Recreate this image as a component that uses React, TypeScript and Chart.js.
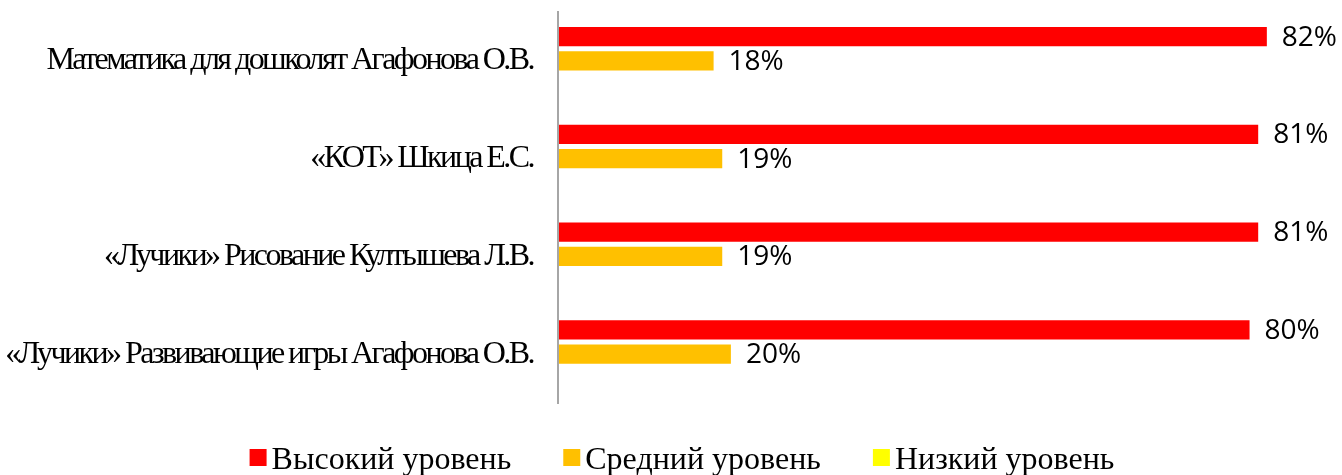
import React, { useEffect, useRef } from "react";
import { Chart, registerables } from "chart.js";

Chart.register(...registerables);

const categories = [
  "Математика для дошколят Агафонова О.В.",
  "«КОТ» Шкица Е.С.",
  "«Лучики» Рисование Култышева Л.В.",
  "«Лучики» Развивающие игры Агафонова О.В.",
];
const seriesNames = ["Высокий уровень", "Средний уровень", "Низкий уровень"];
const highLevel = [0.82, 0.81, 0.81, 0.8];
const mediumLevel = [0.18, 0.19, 0.19, 0.2];
const lowLevel = [0, 0, 0, 0];
const seriesColors = ["#FF0000", "#FFC000", "#FFFF00"];

const W = 1342;
const H = 475;

const labelSpacingPlugin = {
  id: "labelSpacing",
  beforeDraw(chart: any) {
    chart.ctx.letterSpacing = "-2.55px";
  },
  beforeDatasetsDraw(chart: any) {
    chart.ctx.letterSpacing = "0px";
  },
};

const dataLabelPlugin = {
  id: "dataLabels",
  afterDatasetsDraw(chart: any) {
    const ctx = chart.ctx;
    ctx.save();
    ctx.letterSpacing = "0px";
    ctx.font = "28px 'Open Sans'";
    ctx.fillStyle = "#000";
    ctx.textAlign = "left";
    ctx.textBaseline = "middle";
    chart.data.datasets.forEach((ds: any, di: number) => {
      const meta = chart.getDatasetMeta(di);
      meta.data.forEach((el: any, i: number) => {
        const v = ds.data[i];
        if (!v) return;
        ctx.fillText(Math.round(v * 100) + "%", el.x + 15, el.y + 1);
      });
    });
    ctx.restore();
  },
};

const legendPlugin = {
  id: "customLegend",
  afterDraw(chart: any) {
    const ctx = chart.ctx;
    ctx.save();
    ctx.letterSpacing = "0px";
    ctx.font = "32px 'Liberation Serif'";
    const box = 17;
    const gap = 5;
    const spacing = 52;
    const widths = seriesNames.map((n) => ctx.measureText(n).width);
    const total =
      widths.reduce((a, b) => a + box + gap + b, 0) + spacing * (seriesNames.length - 1);
    let x = 682 - total / 2;
    const boxTop = 449;
    const baseline = 469;
    seriesNames.forEach((n, i) => {
      ctx.fillStyle = seriesColors[i];
      ctx.fillRect(x, boxTop, box, box);
      x += box + gap;
      ctx.fillStyle = "#000";
      ctx.textAlign = "left";
      ctx.textBaseline = "alphabetic";
      ctx.fillText(n, x, baseline);
      x += widths[i] + spacing;
    });
    ctx.restore();
  },
};

export default function App() {
  const ref = useRef<HTMLCanvasElement>(null);
  useEffect(() => {
    if (!ref.current) return;
    const datasetsValues = [highLevel, mediumLevel, lowLevel];
    const chart = new Chart(ref.current, {
      type: "bar",
      data: {
        labels: categories,
        datasets: seriesNames.map((name, i) => ({
          label: name,
          data: datasetsValues[i],
          backgroundColor: seriesColors[i],
          borderWidth: 0,
          categoryPercentage: 0.746,
          barPercentage: 0.79,
        })),
      },
      options: {
        indexAxis: "y",
        responsive: false,
        animation: false,
        layout: { padding: { top: 12, bottom: 72, right: 6, left: 0 } },
        plugins: {
          legend: { display: false },
          tooltip: { enabled: false },
        },
        scales: {
          x: {
            display: false,
            min: 0,
            max: 0.9,
          },
          y: {
            type: "category",
            grid: { display: false, drawTicks: false },
            border: { display: true, color: "#A6A6A6", width: 2, z: 1 },
            ticks: {
              color: "#000",
              padding: 25,
              font: { family: "'Liberation Serif'", size: 32 },
            },
            afterFit(scale: any) {
              scale.width = 558;
              scale.paddingTop = 0;
              scale.paddingBottom = 0;
            },
          },
        },
      },
      plugins: [labelSpacingPlugin, dataLabelPlugin, legendPlugin],
    } as any);
    return () => chart.destroy();
  }, []);
  return (
    <div style={{ position: "fixed", left: 0, top: 0, width: W, height: H, background: "#fff" }}>
      <canvas ref={ref} width={W} height={H} style={{ display: "block" }} />
    </div>
  );
}
